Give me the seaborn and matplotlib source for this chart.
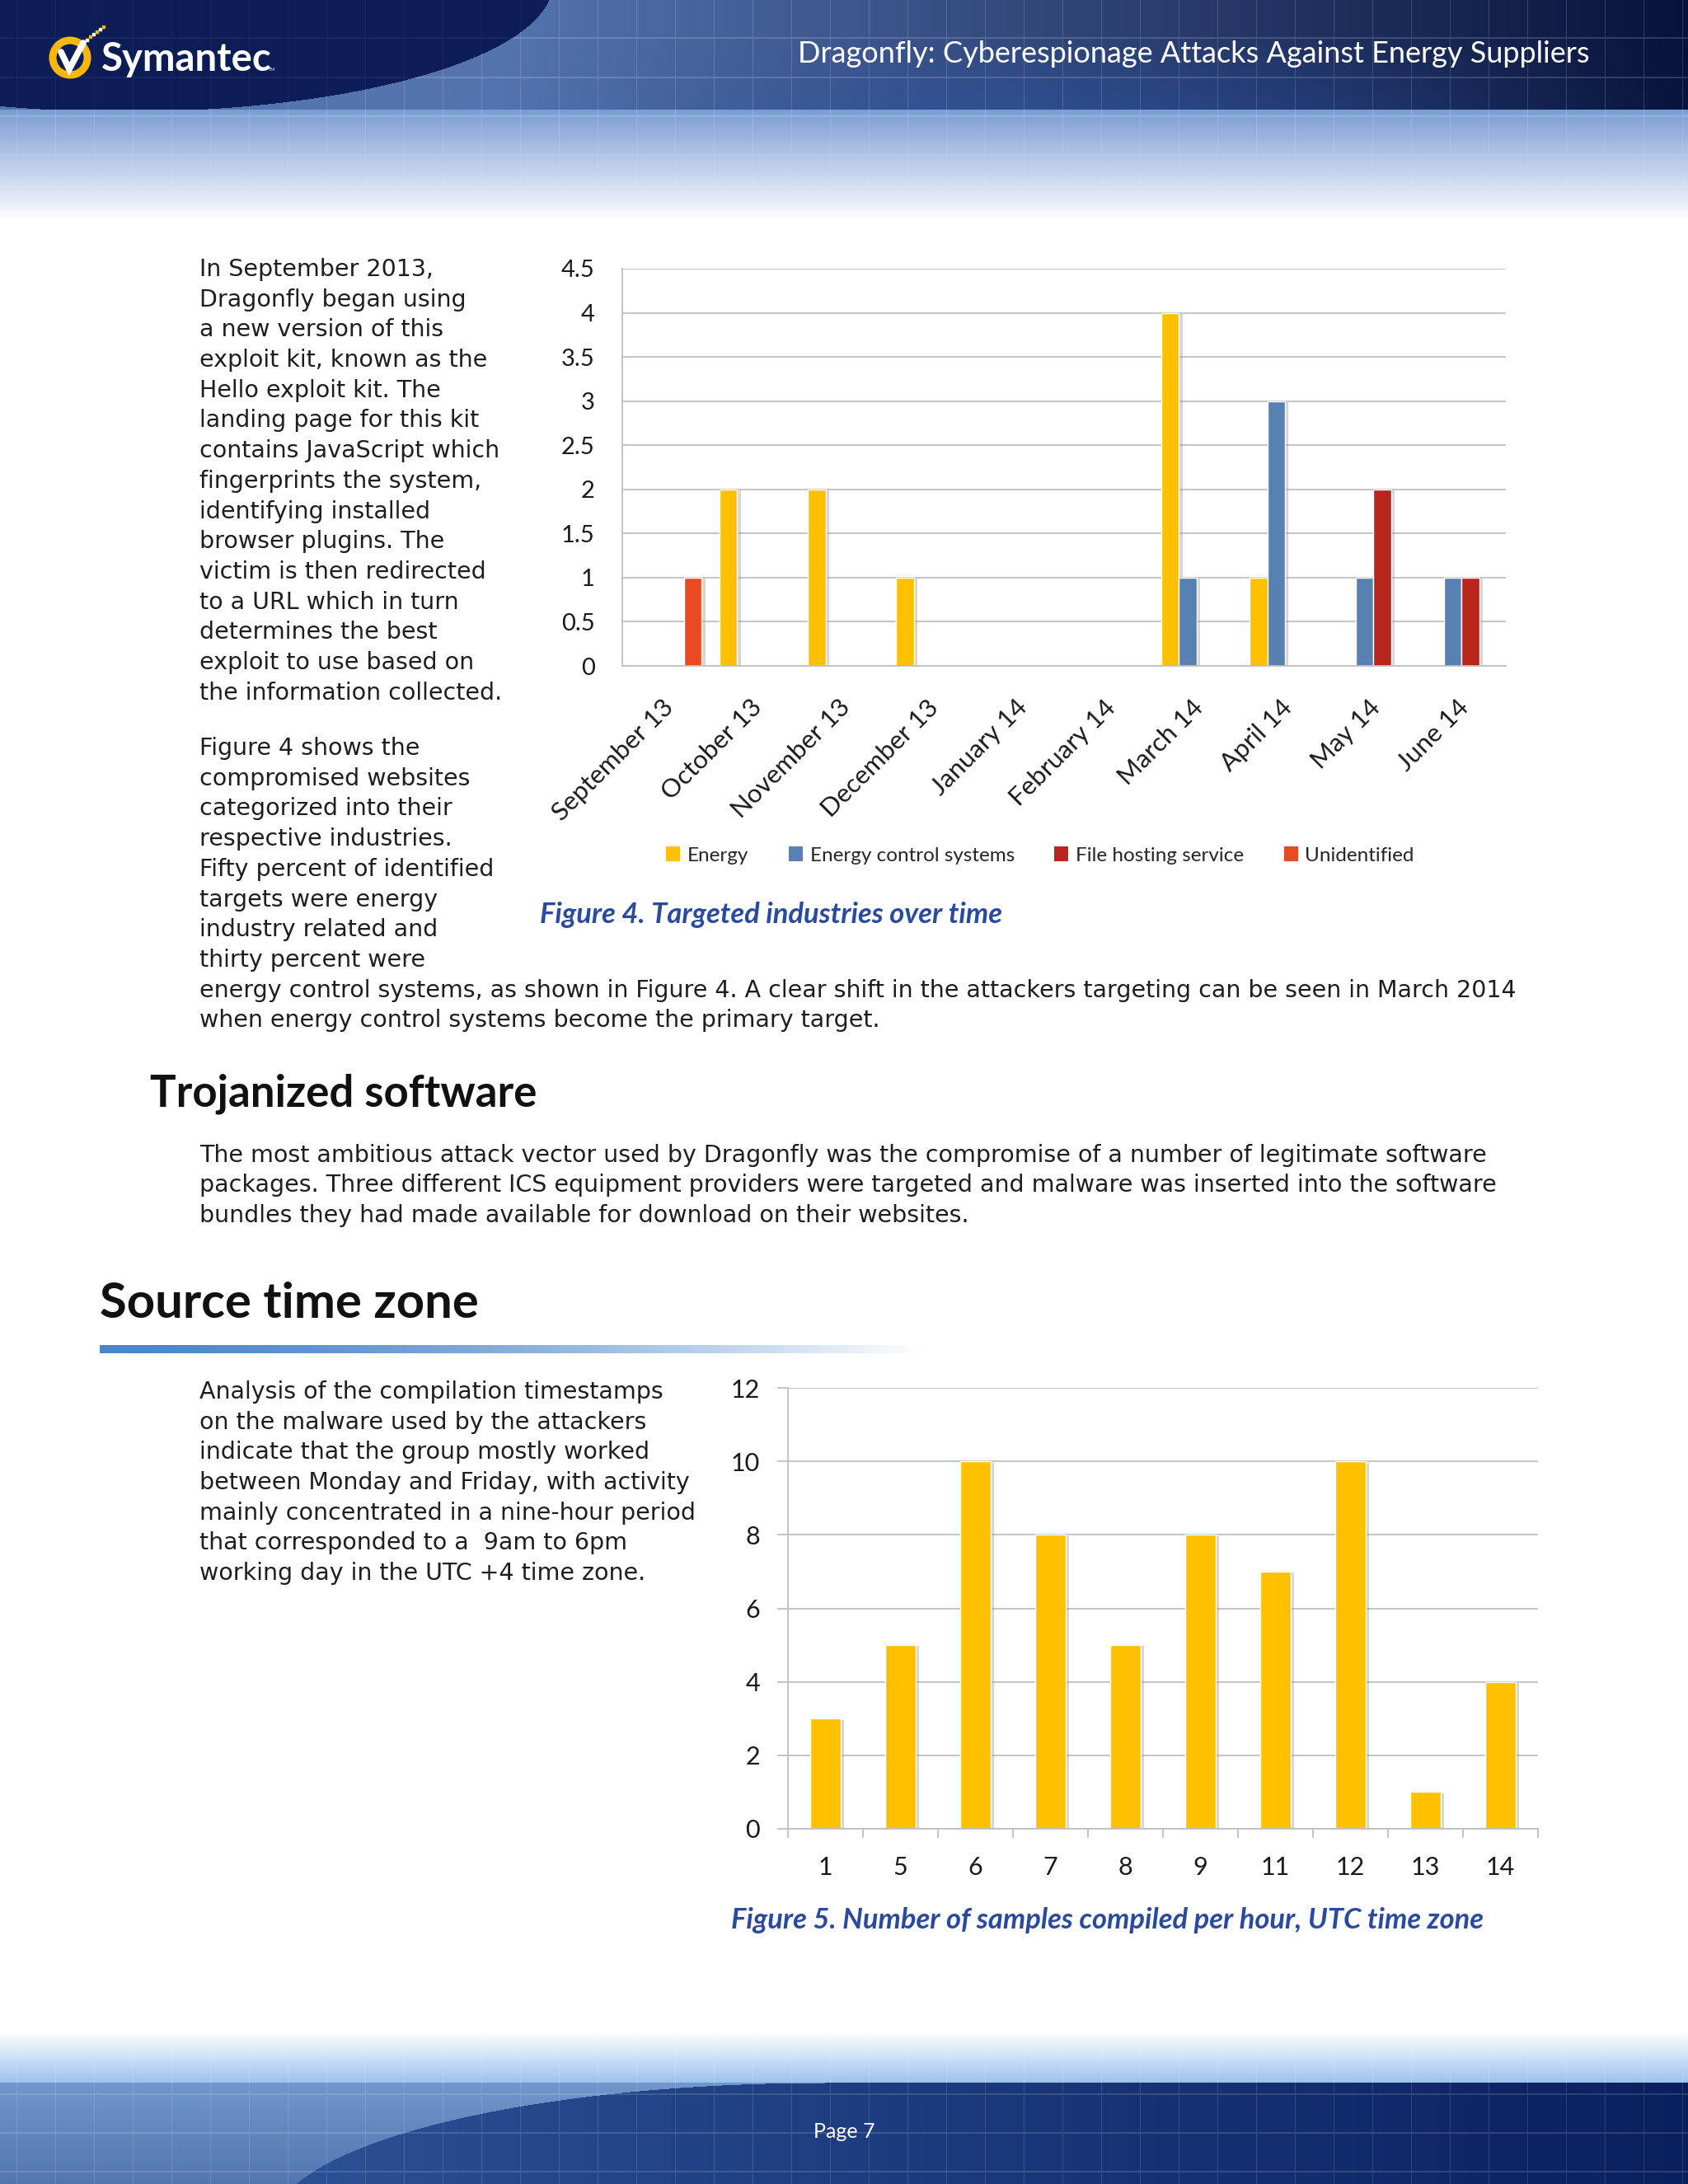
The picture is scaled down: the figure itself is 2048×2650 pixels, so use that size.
import numpy as np
import pandas as pd
import matplotlib
matplotlib.use('Agg')
import matplotlib.pyplot as plt
import matplotlib.patheffects as pe
import matplotlib.transforms as mtransforms
from matplotlib.patches import Circle, Rectangle
import seaborn as sns

# Figure 4: compromised websites per industry, per month
months = ["September 13", "October 13", "November 13", "December 13", "January 14",
          "February 14", "March 14", "April 14", "May 14", "June 14"]
energy = [0, 2, 2, 1, 0, 0, 4, 1, 0, 0]
energy_control = [0, 0, 0, 0, 0, 0, 1, 3, 1, 1]
file_hosting = [0, 0, 0, 0, 0, 0, 0, 0, 2, 1]
unidentified = [1, 0, 0, 0, 0, 0, 0, 0, 0, 0]
industries = ["Energy", "Energy control systems", "File hosting service", "Unidentified"]
industry_colors = ["#FFC000", "#5681B0", "#B8261B", "#E84A21"]

# Figure 5: samples compiled per hour (UTC)
hours = ["1", "5", "6", "7", "8", "9", "11", "12", "13", "14"]
samples = [3, 5, 10, 8, 5, 8, 7, 10, 1, 4]

# page text
para1 = ["In September 2013,", "Dragonfly began using", "a new version of this",
         "exploit kit, known as the", "Hello exploit kit. The", "landing page for this kit",
         "contains JavaScript which", "fingerprints the system,", "identifying installed",
         "browser plugins. The", "victim is then redirected", "to a URL which in turn",
         "determines the best", "exploit to use based on", "the information collected."]
para2 = ["Figure 4 shows the", "compromised websites", "categorized into their",
         "respective industries.", "Fifty percent of identified", "targets were energy",
         "industry related and", "thirty percent were",
         "energy control systems, as shown in Figure 4. A clear shift in the attackers targeting can be seen in March 2014",
         "when energy control systems become the primary target."]
para3 = ["The most ambitious attack vector used by Dragonfly was the compromise of a number of legitimate software",
         "packages. Three different ICS equipment providers were targeted and malware was inserted into the software",
         "bundles they had made available for download on their websites."]
para4 = ["Analysis of the compilation timestamps", "on the malware used by the attackers",
         "indicate that the group mostly worked", "between Monday and Friday, with activity",
         "mainly concentrated in a nine-hour period", "that corresponded to a  9am to 6pm",
         "working day in the UTC +4 time zone."]

W, H = 2048, 2650


def rgb(h):
    h = h.lstrip('#')
    return np.array([int(h[i:i + 2], 16) for i in (0, 2, 4)], dtype=np.float32) / 255


def header_image(w=W, h=280):
    yy, xx = np.mgrid[0:h, 0:w].astype(np.float32)
    band = yy < 133
    t = np.clip((xx - 600) / 1450, 0, 1)[..., None]
    col = rgb('#5574b0') * (1 - t) + rgb('#07123a') * t
    glow = (np.exp(-((xx - 1300) / 450) ** 2) * np.clip((yy - 40) / 90, 0, 1))[..., None] * 0.45
    col = col * (1 - glow) + rgb('#2a52a6') * glow
    inside = ((xx - 150) / 520) ** 2 + ((yy + 20) / 155) ** 2 < 1
    col[inside] = rgb('#0c1c55')
    s = np.clip((yy - 133) / 135, 0, 1)[..., None]
    light = rgb('#7b9dd3') * (1 - s) + 1.0 * s
    img = np.where(band[..., None], col, light)
    a = np.zeros((h, w), np.float32)
    a[:, 20::47] = 0.16
    for r in (45, 93, 140, 187, 235):
        a[r:r + 2, :] = 0.16
    a *= np.where(band, 1.0, 1 - s[..., 0])
    a[inside] *= 0.3
    return img * (1 - a[..., None]) + a[..., None]


def footer_image(w=W, h=210, y0=2440):
    yy, xx = np.mgrid[0:h, 0:w].astype(np.float32)
    Y = yy + y0
    s = np.clip((Y - 2465) / 62, 0, 1)[..., None]
    img = 1.0 * (1 - s) + rgb('#9cc2ee') * s
    band = Y >= 2527
    v = np.clip((Y - 2527) / 123, 0, 1)[..., None]
    left = rgb('#7097cb') * (1 - v) + rgb('#5376b0') * v
    t = np.clip((xx - 350) / 1700, 0, 1)[..., None]
    dark = rgb('#2b5196') * (1 - t) + rgb('#0a1f5e') * t
    in_dark = (((xx - 1000) / 670) ** 2 + ((Y - 2700) / 173) ** 2 < 1) | (xx > 1000)
    bandcol = np.where(in_dark[..., None], dark, left)
    img = np.where(band[..., None], bandcol, img)
    a = np.zeros((h, w), np.float32)
    a[:, 20::47] = 0.14
    for r in (100, 147, 194):
        a[r:r + 2, :] = 0.14
    a *= s[..., 0]
    return img * (1 - a[..., None]) + a[..., None]


sns.set_theme(style="white")
plt.rcParams['font.family'] = ['Lato', 'DejaVu Sans']

fig = plt.figure(figsize=(20.48, 26.5), dpi=100)
bg = fig.add_axes([0, 0, 1, 1], zorder=0)
bg.imshow(header_image(), extent=(0, W, 280, 0), aspect='auto', interpolation='bilinear')
bg.imshow(footer_image(), extent=(0, W, 2650, 2440), aspect='auto', interpolation='bilinear')

# heading underline gradient
grad = np.zeros((1, 500, 4), np.float32)
grad[..., :3] = rgb('#4b86c8')
grad[..., 3] = 1 - np.linspace(0, 1, 500) ** 1.6
bg.imshow(grad, extent=(121, 1120, 1642, 1632), aspect='auto')
bg.set_xlim(0, W)
bg.set_ylim(H, 0)
bg.axis('off')

# logo
bg.add_patch(Circle((85, 70), 21, fill=False, edgecolor='#F8B70C', lw=6.5))
bg.plot([74, 84, 101], [63, 84, 52], color='white', lw=5.5, solid_joinstyle='miter')
for i, (px, py) in enumerate([(104, 47), (108, 43), (112, 40), (116, 37), (120, 34), (124, 31)]):
    bg.add_patch(Rectangle((px, py), 3, 3, color='white' if i % 2 == 0 else '#F8B70C'))
bg.text(123, 86, "Symantec", fontsize=34, fontweight='bold', color='white', va='baseline')
bg.text(326, 86, "TM", fontsize=4, color='white', va='baseline')
bg.text(1928, 66, "Dragonfly: Cyberespionage Attacks Against Energy Suppliers",
        ha='right', va='center', fontsize=26, color='white')
bg.text(1024, 2586, "Page 7", ha='center', va='center', fontsize=18, color='white')

body = dict(fontsize=20.5, family=['DejaVu Sans'], color='#1e1e1e', va='center')
step = 36.7
for i, line in enumerate(para1):
    bg.text(242, 327 + i * step, line, **body)
for i, line in enumerate(para2):
    bg.text(242, 908 + i * step, line, **body)
bg.text(182, 1327, "Trojanized software", fontsize=38, fontweight='bold', color='#111111', va='center')
for i, line in enumerate(para3):
    bg.text(242, 1402 + i * 36.4, line, **body)
bg.text(121, 1582, "Source time zone", fontsize=43, fontweight='bold', color='#111111', va='center')
for i, line in enumerate(para4):
    bg.text(242, 1689 + i * step, line, **body)

cap = dict(fontsize=24.8, fontweight='bold', style='italic', color='#2a4a9f', va='center')
bg.text(655, 1110, "Figure 4. Targeted industries over time", **cap)
bg.text(887, 2330, "Figure 5. Number of samples compiled per hour, UTC time zone", **cap)

grid_col = '#bfbfbf'
shadow = [pe.SimplePatchShadow(offset=(3, -1), shadow_rgbFace='#8c8c8c', alpha=0.35), pe.Normal()]

# ---- Figure 4 chart ----
ax1 = fig.add_axes([755 / W, 1 - 808 / H, 1072 / W, 482 / H], zorder=2)
df4 = pd.DataFrame({
    "Month": months * 4,
    "Industry": np.repeat(industries, len(months)),
    "Count": energy + energy_control + file_hosting + unidentified,
})
sns.barplot(data=df4, x="Month", y="Count", hue="Industry", hue_order=industries,
            palette=dict(zip(industries, industry_colors)), width=0.8, saturation=1,
            errorbar=None, ax=ax1)
for p in ax1.patches:
    p.set_path_effects(shadow)
ax1.set_facecolor('none')
ax1.set_xlim(-0.5, len(months) - 0.5)
ax1.set_ylim(0, 4.5)
yt = np.arange(0, 4.51, 0.5)
ax1.set_yticks(yt)
ax1.set_yticklabels([f"{v:g}" for v in yt])
ax1.yaxis.grid(True, color=grid_col, lw=1.3)
ax1.set_axisbelow(True)
ax1.set_xlabel("")
ax1.set_ylabel("")
for side in ("top", "right"):
    ax1.spines[side].set_visible(False)
for side in ("left", "bottom"):
    ax1.spines[side].set_color(grid_col)
    ax1.spines[side].set_linewidth(1.3)
ax1.tick_params(axis='y', length=0, pad=24, labelsize=21, labelcolor='#1a1a1a')
ax1.tick_params(axis='x', length=0, pad=33, labelsize=22.5, labelcolor='#1a1a1a')
shift = mtransforms.ScaledTranslation(4 / 100, 0, fig.dpi_scale_trans)
for lab in ax1.get_xticklabels():
    lab.set_rotation(45)
    lab.set_ha('right')
    lab.set_va('center')
    lab.set_rotation_mode('anchor')
    lab.set_transform(lab.get_transform() + shift)

handles, labels = ax1.get_legend_handles_labels()
ax1.get_legend().remove()
for h in handles:
    h.set_path_effects([])
    h.set_edgecolor('none')
fig.legend(handles, labels, loc='center', bbox_to_anchor=(1262 / W, 1 - 1038 / H), ncol=4,
           frameon=False, fontsize=17.5, handlelength=0.7, handleheight=0.7,
           handletextpad=0.35, columnspacing=2.0)

# ---- Figure 5 chart ----
ax2 = fig.add_axes([956 / W, 1 - 2219 / H, 910 / W, 535 / H], zorder=2)
df5 = pd.DataFrame({"Hour": hours, "Samples": samples})
sns.barplot(data=df5, x="Hour", y="Samples", color="#FFC000", width=0.4, saturation=1,
            errorbar=None, ax=ax2)
for p in ax2.patches:
    p.set_path_effects(shadow)
ax2.set_facecolor('none')
ax2.set_xlim(-0.5, len(hours) - 0.5)
ax2.set_ylim(0, 12)
ax2.set_yticks(np.arange(0, 13, 2))
ax2.yaxis.grid(True, color=grid_col, lw=1.3)
ax2.set_axisbelow(True)
ax2.set_xlabel("")
ax2.set_ylabel("")
for side in ("top", "right"):
    ax2.spines[side].set_visible(False)
for side in ("left", "bottom"):
    ax2.spines[side].set_color(grid_col)
    ax2.spines[side].set_linewidth(1.3)
ax2.set_xticks(np.arange(-0.5, len(hours), 1), minor=True)
ax2.tick_params(axis='y', length=9.4, width=1.3, color=grid_col, direction='out',
                left=True, pad=15, labelsize=22, labelcolor='#1a1a1a')
ax2.tick_params(axis='x', which='major', length=0, pad=24, labelsize=22, labelcolor='#1a1a1a')
ax2.tick_params(axis='x', which='minor', length=8, width=1.3, color=grid_col,
                direction='out', bottom=True)

fig.savefig("out.png", dpi=100)
